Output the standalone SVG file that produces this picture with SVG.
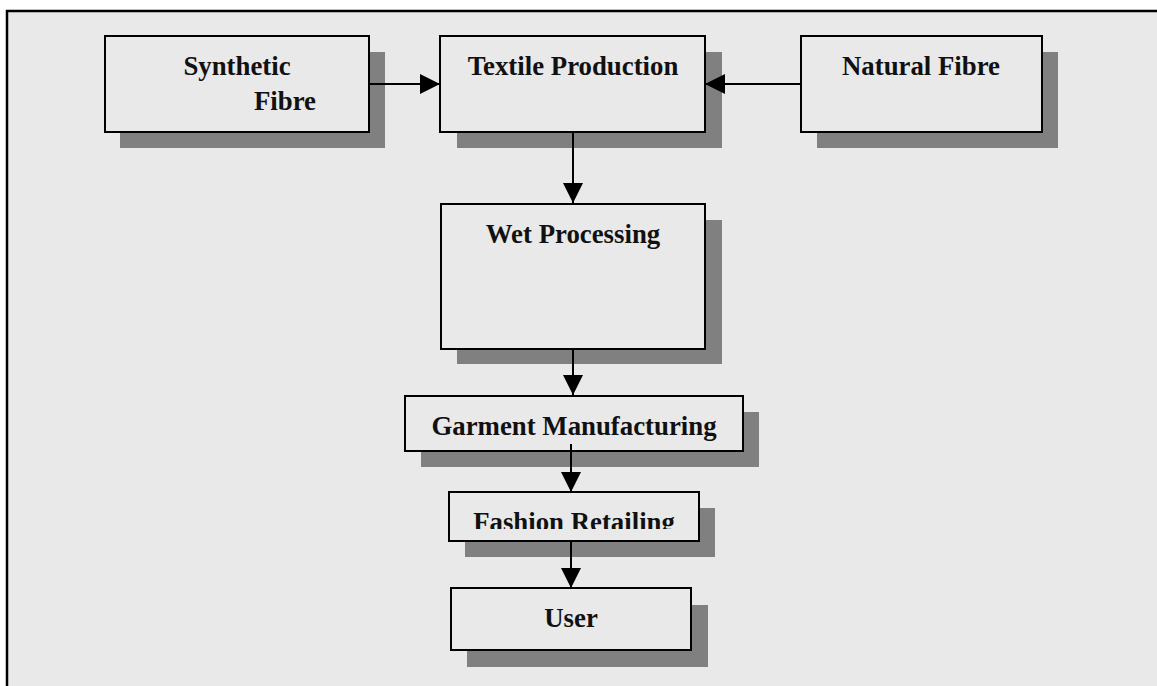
<svg xmlns="http://www.w3.org/2000/svg" width="1157" height="686" viewBox="0 0 1157 686">
  <style>
    .shadow { fill: #808080; }
    .box { fill: #e9e9e9; stroke: #000; stroke-width: 2; }
    .label { font-family: "Liberation Serif", "Times New Roman", serif; font-weight: bold; font-size: 26.8px; fill: #111; }
    .edge { stroke: #000; stroke-width: 2; fill: none; marker-end: url(#arrow); }
  </style>
  <defs>
    <marker id="arrow" markerUnits="userSpaceOnUse" markerWidth="20" markerHeight="20" refX="20" refY="10" orient="auto">
      <path d="M0,0 L20,10 L0,20 z" fill="#000"/>
    </marker>
    <clipPath id="retail-clip">
      <rect x="449" y="492" width="250" height="37"/>
    </clipPath>
  </defs>

  <!-- page and frame -->
  <rect x="0" y="0" width="1157" height="686" fill="#fff"/>
  <rect x="7" y="11" width="1150" height="675" fill="#e9e9e9"/>
  <path d="M7,686 V11 H1157" stroke="#000" stroke-width="2.5" fill="none"/>

  <g id="synthetic-fibre">
    <rect class="shadow" x="120" y="52" width="265" height="96"/>
    <rect class="box" x="105" y="36" width="264" height="96"/>
    <text class="label" x="237" y="75" text-anchor="middle">Synthetic</text>
    <text class="label" x="285" y="110" text-anchor="middle">Fibre</text>
  </g>

  <g id="textile-production">
    <rect class="shadow" x="457" y="52" width="265" height="96"/>
    <rect class="box" x="440" y="36" width="265" height="96"/>
    <text class="label" x="573" y="75" text-anchor="middle">Textile Production</text>
  </g>

  <g id="natural-fibre">
    <rect class="shadow" x="817" y="52" width="241" height="96"/>
    <rect class="box" x="801" y="36" width="241" height="96"/>
    <text class="label" x="921" y="75" text-anchor="middle">Natural Fibre</text>
  </g>

  <g id="wet-processing">
    <rect class="shadow" x="457" y="220" width="265" height="144"/>
    <rect class="box" x="441" y="204" width="264" height="145"/>
    <text class="label" x="573" y="243" text-anchor="middle">Wet Processing</text>
  </g>

  <g id="garment-manufacturing">
    <rect class="shadow" x="421" y="412" width="338" height="55"/>
    <rect class="box" x="405" y="396" width="338" height="55"/>
    <text class="label" x="574" y="435" text-anchor="middle">Garment Manufacturing</text>
  </g>

  <g id="fashion-retailing">
    <rect class="shadow" x="465" y="508" width="250" height="49"/>
    <rect class="box" x="449" y="492" width="250" height="49"/>
    <text class="label" x="574" y="531" text-anchor="middle" clip-path="url(#retail-clip)">Fashion Retailing</text>
  </g>

  <g id="user">
    <rect class="shadow" x="467" y="605" width="241" height="62"/>
    <rect class="box" x="451" y="588" width="240" height="62"/>
    <text class="label" x="571" y="627" text-anchor="middle">User</text>
  </g>

  <g id="connectors">
    <line class="edge" x1="369" y1="84" x2="440" y2="84"/>
    <line class="edge" x1="801" y1="84" x2="705" y2="84"/>
    <line class="edge" x1="573" y1="132" x2="573" y2="203"/>
    <line class="edge" x1="573" y1="349" x2="573" y2="395"/>
    <line class="edge" x1="571" y1="444" x2="571" y2="492"/>
    <line class="edge" x1="571" y1="540" x2="571" y2="588"/>
  </g>
</svg>
